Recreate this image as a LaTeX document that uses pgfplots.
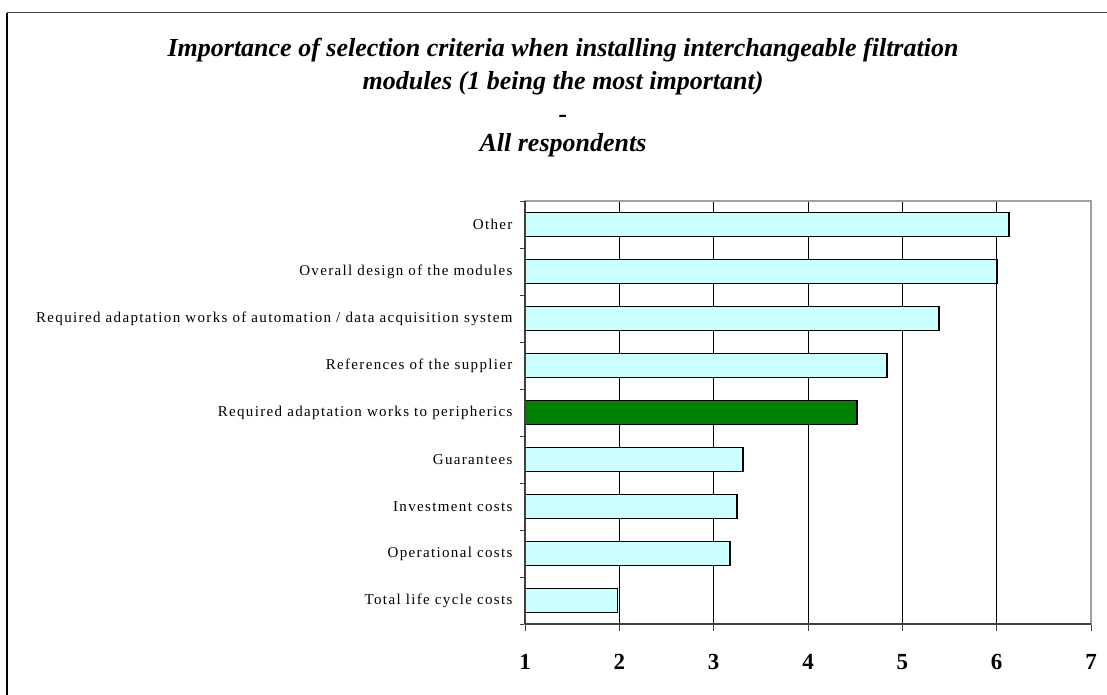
\documentclass[border=0pt]{standalone}
\usepackage{fontspec}
\setmainfont{Liberation Serif}
\usepackage{pgfplots}
\pgfplotsset{compat=1.18}
\usepackage{pgfplotstable}
\definecolor{barcyan}{HTML}{CCFFFF}
\definecolor{bargreen}{HTML}{008000}
\definecolor{axdark}{HTML}{404040}
\definecolor{axlight}{HTML}{A0A0A0}
\newfontfamily\labelfont[LetterSpace=9]{Liberation Serif}
\pgfplotstableread{
pos v
1 1.98
2 3.17
3 3.25
4 3.31
6 4.84
7 5.39
8 6.00
9 6.13
}\cyandata
\pgfplotstableread{
pos v
5 4.52
}\greendata
\begin{document}
\begin{tikzpicture}[x=1pt,y=1pt]
\path[use as bounding box] (0,0) rectangle (1107,695);
\draw[axdark, line width=1.6pt] (7,682.3) -- (1107,682.3);
\draw[black, line width=1.5pt] (7,682.3) -- (7,0);
\begin{scope}[font=\fontsize{26}{30}\selectfont\bfseries\itshape]
\node[anchor=base, inner sep=0] at (563,638.3) {Importance of selection criteria when installing interchangeable filtration};
\node[anchor=base, inner sep=0] at (563,605) {modules (1 being the most important)};
\node[anchor=base, inner sep=0] at (563,572.5) {-};
\node[anchor=base, inner sep=0] at (563,543.3) {All respondents};
\end{scope}
\begin{axis}[
  at={(525pt,71pt)}, anchor=south west,
  scale only axis, width=566pt, height=423pt,
  xbar, bar width=24pt, bar shift=0pt,
  xmin=0, xmax=6, ymin=0.5, ymax=9.5,
  xtick={0,...,6}, xticklabels={1,2,3,4,5,6,7},
  ytick={1,...,9},
  yticklabels={Total life cycle costs, Operational costs, Investment costs, Guarantees, Required adaptation works to peripherics, References of the supplier, Required adaptation works of automation / data acquisition system, Overall design of the modules\ , Other},
  minor ytick={0.5,1.5,...,9.5},
  every major y tick/.append style={draw=none},
  every minor y tick/.append style={axdark, line width=0.8pt},
  minor tick length=5pt,
  major tick length=7pt,
  tick align=outside,
  xtick pos=bottom, ytick pos=left,
  every major x tick/.append style={axdark, line width=0.8pt},
  xmajorgrids, major grid style={black, line width=0.8pt},
  axis line style={axlight, line width=1.2pt},
  xticklabel style={font=\fontsize{23}{23}\selectfont\bfseries, yshift=-20pt},
  yticklabel style={font=\fontsize{15}{15}\selectfont\labelfont, xshift=-2pt},
  clip=false,
  /pgf/number format/assume math mode=true,
]
\addplot[fill=barcyan, draw=black, line width=1.8pt] table[x expr=\thisrow{v}-1, y=pos] {\cyandata};
\addplot[fill=bargreen, draw=black, line width=1.8pt] table[x expr=\thisrow{v}-1, y=pos] {\greendata};
\draw[axdark, line width=1.6pt] (rel axis cs:0,0) -- (rel axis cs:1,0);
\draw[axdark, line width=1.2pt] (rel axis cs:0,0) -- (rel axis cs:0,1);
\end{axis}
\end{tikzpicture}
\end{document}
